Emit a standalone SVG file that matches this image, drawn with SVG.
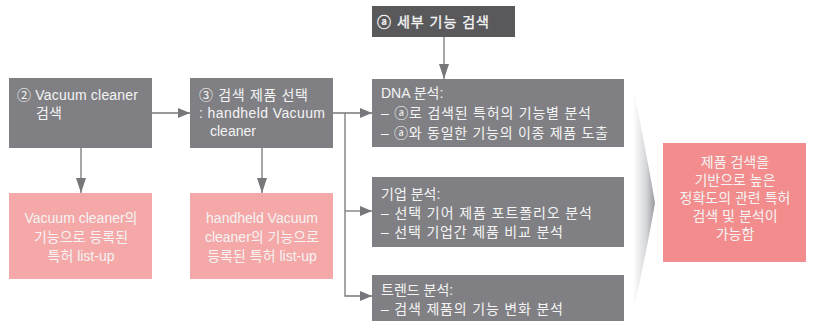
<svg xmlns="http://www.w3.org/2000/svg" width="814" height="321" viewBox="0 0 814 321">
<defs>
<style>
.t{font-family:"Liberation Sans","Noto Sans CJK KR",sans-serif;font-size:14px;fill:#f4f4f4}
.c{text-anchor:middle}
.g{fill:#808084}
.d{fill:#59595c}
.p{fill:#f5a8a8}
.r{fill:#f28c8d}
.ln{stroke:#77777b;stroke-width:1.3;fill:none}
</style>
<marker id="ah" viewBox="0 0 12 10" refX="12" refY="5" markerWidth="12" markerHeight="10" markerUnits="userSpaceOnUse" orient="auto">
<path d="M0,0 L12,5 L0,10 Z" fill="#77777b"/>
</marker>
<marker id="ahv" viewBox="0 0 15 10" refX="15" refY="5" markerWidth="15" markerHeight="10" markerUnits="userSpaceOnUse" orient="auto">
<path d="M0,0 L15,5 L0,10 Z" fill="#77777b"/>
</marker>
<linearGradient id="chev" x1="0" y1="0" x2="1" y2="0">
<stop offset="0" stop-color="#ffffff"/>
<stop offset="0.6" stop-color="#d6d7da"/>
<stop offset="1" stop-color="#97989d"/>
</linearGradient>
</defs>
<rect width="814" height="321" fill="#ffffff"/>

<g id="chevron">
<path d="M633,88 Q646,150 655,203 Q646,255 633,312 Z" fill="url(#chev)"/>
</g>

<g id="connectors">
<line class="ln" x1="152" y1="113" x2="190" y2="113" marker-end="url(#ah)"/>
<line class="ln" x1="81" y1="148" x2="81" y2="193" marker-end="url(#ahv)"/>
<line class="ln" x1="262" y1="148" x2="262" y2="193" marker-end="url(#ahv)"/>
<line class="ln" x1="444" y1="37" x2="444" y2="79" marker-end="url(#ahv)"/>
<line class="ln" x1="333" y1="113" x2="372" y2="113" marker-end="url(#ah)"/>
<polyline class="ln" points="345,113 345,296 372,296" marker-end="url(#ah)"/>
<line class="ln" x1="345" y1="211" x2="372" y2="211" marker-end="url(#ah)"/>
</g>

<g id="n-vacuum">
<rect class="g" x="9" y="78" width="143" height="70"/>
<text class="t" x="17" y="100" textLength="121" lengthAdjust="spacing">② Vacuum cleaner</text>
<text class="t" x="36" y="118">검색</text>
</g>

<g id="n-select">
<rect class="g" x="190" y="78" width="143" height="70"/>
<text class="t" x="199" y="100" textLength="109" lengthAdjust="spacing">③ 검색 제품 선택</text>
<text class="t" x="199" y="118" textLength="126" lengthAdjust="spacing">: handheld Vacuum</text>
<text class="t" x="210" y="136">cleaner</text>
</g>

<g id="n-list1">
<rect class="p" x="9" y="193" width="143" height="86"/>
<text class="t c" x="81" y="223">Vacuum cleaner의</text>
<text class="t c" x="81" y="242">기능으로 등록된</text>
<text class="t c" x="81" y="261">특허 list-up</text>
</g>

<g id="n-list2">
<rect class="p" x="190" y="193" width="143" height="86"/>
<text class="t c" x="262" y="223">handheld Vacuum</text>
<text class="t c" x="262" y="242">cleaner의 기능으로</text>
<text class="t c" x="262" y="261">등록된 특허 list-up</text>
</g>

<g id="n-detail">
<rect class="d" x="372" y="6" width="143" height="31"/>
<text class="t" x="377" y="27" textLength="112" lengthAdjust="spacing" stroke="#f4f4f4" stroke-width="0.35">ⓐ 세부 기능 검색</text>
</g>

<g id="n-dna">
<rect class="g" x="372" y="79" width="252" height="68"/>
<text class="t" x="381" y="98">DNA 분석:</text>
<text class="t" x="381" y="118" textLength="210" lengthAdjust="spacing">– ⓐ로 검색된 특허의 기능별 분석</text>
<text class="t" x="381" y="138" textLength="227" lengthAdjust="spacing">– ⓐ와 동일한 기능의 이종 제품 도출</text>
</g>

<g id="n-corp">
<rect class="g" x="372" y="177" width="252" height="70"/>
<text class="t" x="381" y="199">기업 분석:</text>
<text class="t" x="381" y="218" textLength="211" lengthAdjust="spacing">– 선택 기어 제품 포트폴리오 분석</text>
<text class="t" x="381" y="237" textLength="182" lengthAdjust="spacing">– 선택 기업간 제품 비교 분석</text>
</g>

<g id="n-trend">
<rect class="g" x="372" y="275" width="252" height="46"/>
<text class="t" x="381" y="295">트렌드 분석:</text>
<text class="t" x="381" y="314" textLength="182" lengthAdjust="spacing">– 검색 제품의 기능 변화 분석</text>
</g>

<g id="n-result">
<rect class="r" x="663" y="143" width="143" height="119"/>
<text class="t c" x="735" y="167">제품 검색을</text>
<text class="t c" x="735" y="185">기반으로 높은</text>
<text class="t c" x="735" y="203">정확도의 관련 특허</text>
<text class="t c" x="735" y="221">검색 및 분석이</text>
<text class="t c" x="735" y="239">가능함</text>
</g>
</svg>
